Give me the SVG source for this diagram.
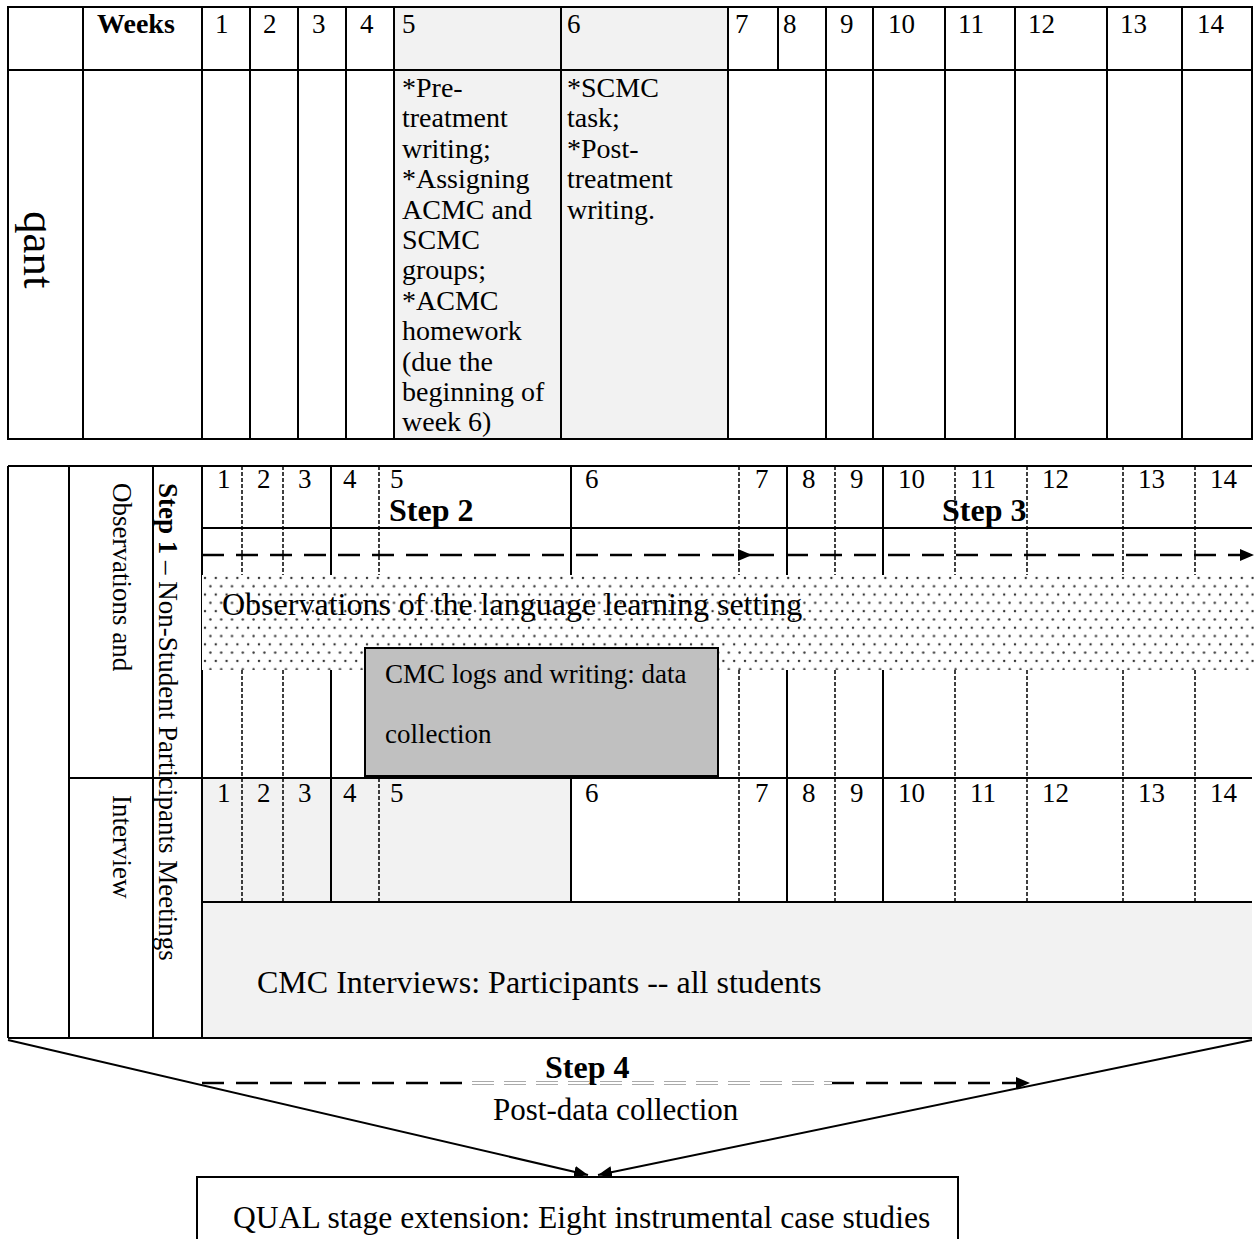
<svg xmlns="http://www.w3.org/2000/svg" width="1254" height="1239" viewBox="0 0 1254 1239">
<defs>
<style>
text { font-family: "Liberation Serif", "Times New Roman", serif; fill: #000; }
.t27 { font-size: 27px; }
.t28 { font-size: 28px; }
.t32 { font-size: 32px; }
.b { font-weight: bold; }
.ln { stroke: #000; stroke-width: 2; fill: none; }
.dl { stroke: #000; stroke-width: 1.5; stroke-dasharray: 4 2; fill: none; }
.arr { stroke: #000; stroke-width: 2.5; stroke-dasharray: 22 12; fill: none; }
.gry { fill: #f2f2f2; }
</style>
<pattern id="dots" x="202" y="575" width="10.8" height="16.6" patternUnits="userSpaceOnUse">
<rect width="10.8" height="16.6" fill="#fff"/>
<circle cx="3" cy="3" r="1.2" fill="#333"/>
<circle cx="8.4" cy="11.3" r="1.2" fill="#333"/>
</pattern>
<marker id="ah" viewBox="0 0 14 12" refX="14" refY="6" markerWidth="14" markerHeight="12" markerUnits="userSpaceOnUse" orient="auto">
<path d="M0,0 L14,6 L0,12 Z" fill="#000"/>
</marker>
</defs>
<rect width="1254" height="1239" fill="#fff"/>

<g id="quant-table">
<rect class="gry" x="394" y="7" width="334" height="432"/>
<rect class="ln" x="8" y="7" width="1244" height="432"/>
<path class="ln" d="M8,70 H1252 M83,7 V439 M202,7 V439 M250,7 V439 M298,7 V439 M346,7 V439 M394,7 V439 M561,7 V439 M728,7 V439 M778,7 V70 M826,7 V439 M873,7 V439 M945,7 V439 M1015,7 V439 M1107,7 V439 M1182,7 V439"/>
<text class="t28 b" x="97" y="33">Weeks</text>
<g class="t27">
<text x="215" y="33">1</text><text x="263" y="33">2</text><text x="312" y="33">3</text><text x="360" y="33">4</text>
<text x="402" y="33">5</text><text x="567" y="33">6</text><text x="735" y="33">7</text><text x="783" y="33">8</text>
<text x="840" y="33">9</text><text x="888" y="33">10</text><text x="958" y="33">11</text><text x="1028" y="33">12</text>
<text x="1120" y="33">13</text><text x="1197" y="33">14</text>
</g>
<text class="t28" x="402" y="97">
<tspan x="402" dy="0">*Pre-</tspan>
<tspan x="402" dy="30.4">treatment</tspan>
<tspan x="402" dy="30.4">writing;</tspan>
<tspan x="402" dy="30.4">*Assigning</tspan>
<tspan x="402" dy="30.4">ACMC and</tspan>
<tspan x="402" dy="30.4">SCMC</tspan>
<tspan x="402" dy="30.4">groups;</tspan>
<tspan x="402" dy="30.4">*ACMC</tspan>
<tspan x="402" dy="30.4">homework</tspan>
<tspan x="402" dy="30.4">(due the</tspan>
<tspan x="402" dy="30.4">beginning of</tspan>
<tspan x="402" dy="30.4">week 6)</tspan>
</text>
<text class="t28" x="567" y="97">
<tspan x="567" dy="0">*SCMC</tspan>
<tspan x="567" dy="30.4">task;</tspan>
<tspan x="567" dy="30.4">*Post-</tspan>
<tspan x="567" dy="30.4">treatment</tspan>
<tspan x="567" dy="30.4">writing.</tspan>
</text>
<text x="0" y="0" style="font-size:45px" transform="translate(24,211) rotate(90)">qant</text>
</g>

<g id="qual-table">
<rect class="gry" x="202" y="778" width="369" height="124"/>
<rect class="gry" x="202" y="902" width="1050" height="136"/>
<path class="ln" d="M8,466 H1252 M202,528 H1252 M69,778 H1252 M202,902 H1252 M8,1038 H1252 M8,466 V1038 M69,466 V1038 M153,466 V1038 M202,466 V1038 M331,466 V902 M571,466 V902 M787,466 V902 M883,466 V902"/>
<path class="dl" d="M242,466 V902 M283,466 V902 M379,466 V902 M739,466 V902 M835,466 V902 M955,466 V902 M1027,466 V902 M1123,466 V902 M1195,466 V902"/>
<g class="t27">
<text x="217" y="488">1</text><text x="257" y="488">2</text><text x="298" y="488">3</text><text x="343" y="488">4</text>
<text x="390" y="488">5</text><text x="585" y="488">6</text><text x="755" y="488">7</text><text x="802" y="488">8</text>
<text x="850" y="488">9</text><text x="898" y="488">10</text><text x="970" y="488">11</text><text x="1042" y="488">12</text>
<text x="1138" y="488">13</text><text x="1210" y="488">14</text>
<text x="217" y="802">1</text><text x="257" y="802">2</text><text x="298" y="802">3</text><text x="343" y="802">4</text>
<text x="390" y="802">5</text><text x="585" y="802">6</text><text x="755" y="802">7</text><text x="802" y="802">8</text>
<text x="850" y="802">9</text><text x="898" y="802">10</text><text x="970" y="802">11</text><text x="1042" y="802">12</text>
<text x="1138" y="802">13</text><text x="1210" y="802">14</text>
</g>
<text class="t32 b" x="389" y="521">Step 2</text>
<text class="t32 b" x="942" y="521">Step 3</text>
<text class="t27" transform="translate(113,483) rotate(90)">Observations and</text>
<text class="t27" transform="translate(113,795) rotate(90)">Interview</text>
<text class="t27" transform="translate(159,483) rotate(90)"><tspan class="b">Step 1</tspan> – Non-Student Participants Meetings</text>
<text class="t32" x="257" y="993">CMC Interviews: Participants -- all students</text>
</g>

<g id="observation-band">
<rect x="202" y="575" width="1052" height="95" fill="url(#dots)"/>
<text class="t32" x="222" y="615">Observations of the language learning setting</text>
</g>

<g id="cmc-logs">
<rect x="365" y="648" width="353" height="128" fill="#c0c0c0" stroke="#000" stroke-width="2"/>
<text class="t27" x="385" y="683">CMC logs and writing: data</text>
<text class="t27" x="385" y="743">collection</text>
</g>

<g id="qual-box">
<rect x="197" y="1177" width="761" height="80" fill="#fff" stroke="#000" stroke-width="2"/>
<text x="233" y="1228" style="font-size:31.6px">QUAL stage extension: Eight instrumental case studies</text>
</g>

<g id="step4-labels">
<text class="t32 b" x="545" y="1078">Step 4</text>
<text x="493" y="1120" style="font-size:31px">Post-data collection</text>
</g>

<g id="connectors">
<path class="arr" d="M202,555 H752" marker-end="url(#ah)"/>
<path class="arr" d="M752,555 H1254" marker-end="url(#ah)"/>
<path class="arr" d="M202,1083 H472"/>
<path d="M472,1081.5 H832 M472,1084.5 H832" stroke="#aaa" stroke-width="1" stroke-dasharray="22 10"/>
<path class="arr" d="M832,1083 H1030" marker-end="url(#ah)"/>
<path class="ln" d="M8,1040 L588,1175" marker-end="url(#ah)"/>
<path class="ln" d="M1252,1040 L598,1175" marker-end="url(#ah)"/>
</g>
</svg>
